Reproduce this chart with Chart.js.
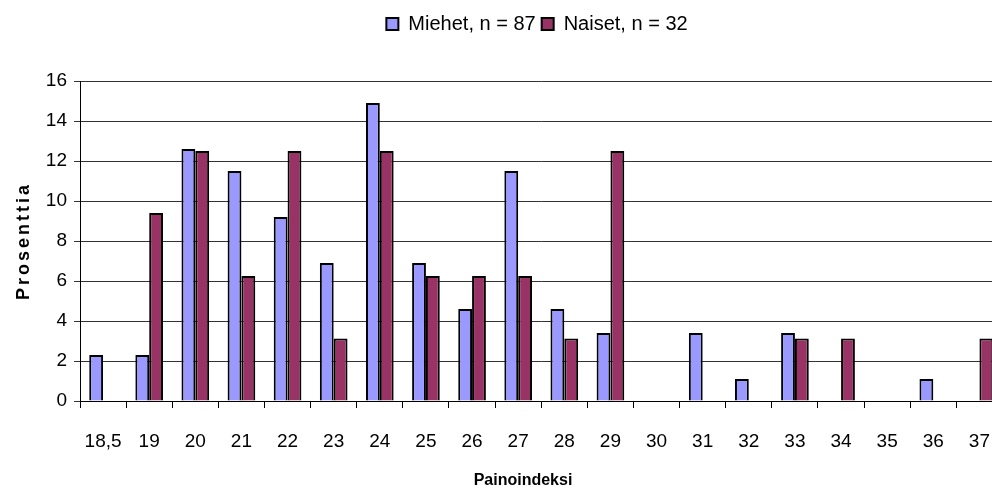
<!DOCTYPE html>
<html>
<head>
<meta charset="utf-8">
<script src="https://cdn.jsdelivr.net/npm/chart.js@4/dist/chart.umd.min.js"></script>
<style>
  html, body { margin: 0; padding: 0; background: #fff; overflow: hidden; }
  #wrap { width: 1012px; height: 492px; }
</style>
</head>
<body>
<div id="wrap"><canvas id="chart" width="1012" height="492"></canvas></div>
<script>
// categories (painoindeksi) and percentages per group
const categories = ['18,5', '19', '20', '21', '22', '23', '24', '25', '26', '27', '28', '29', '30', '31', '32', '33', '34', '35', '36', '37'];
const miehet = [2.3, 2.3, 12.6, 11.5, 9.2, 6.9, 14.9, 6.9, 4.6, 11.5, 4.6, 3.4, 0, 3.4, 1.1, 3.4, 0, 0, 1.1, 0];
const naiset = [0, 9.4, 12.5, 6.25, 12.5, 3.125, 12.5, 6.25, 6.25, 6.25, 3.125, 12.5, 0, 0, 0, 3.125, 3.125, 0, 0, 3.125];
const yTicks = [0, 2, 4, 6, 8, 10, 12, 14, 16];

const font = '"Liberation Sans", Arial, sans-serif';

// make room under the legend, and nudge it like the original
const legendSpace = {
    id: 'legendSpace',
    beforeInit(chart) {
        const fit = chart.legend.fit;
        chart.legend.fit = function () {
            fit.bind(chart.legend)();
            this.height += 40;
        };
    },
    afterLayout(chart) {
        chart.legend.left += 31;
        chart.legend.right += 31;
        chart.legend.top += 3;
    }
};

// axis titles, y one with letter spacing
const axisTitles = {
    id: 'axisTitles',
    afterDraw(chart) {
        const ctx = chart.ctx;
        const a = chart.chartArea;
        ctx.save();
        ctx.fillStyle = '#000';
        ctx.textAlign = 'center';
        ctx.textBaseline = 'middle';
        ctx.font = 'bold 16px ' + font;
        ctx.fillText('Painoindeksi', 523, 481);
        ctx.translate(24, (a.top + a.bottom) / 2);
        ctx.rotate(-Math.PI / 2);
        ctx.font = 'bold 18px ' + font;
        ctx.letterSpacing = '3px';
        ctx.fillText('Prosenttia', 0, 0);
        ctx.restore();
    }
};

new Chart(document.getElementById('chart'), {
    type: 'bar',
    data: {
        labels: categories,
        datasets: [
            {
                label: 'Miehet, n = 87',
                data: miehet,
                backgroundColor: '#9999ff',
                borderColor: '#000',
                borderWidth: 2
            },
            {
                label: 'Naiset, n = 32',
                data: naiset,
                backgroundColor: '#993366',
                borderColor: '#000',
                borderWidth: 2
            }
        ]
    },
    options: {
        responsive: false,
        animation: false,
        datasets: {
            bar: { categoryPercentage: 0.6, barPercentage: 1 }
        },
        layout: { padding: { left: 0, right: 0, top: 5, bottom: 0 } },
        plugins: {
            tooltip: { enabled: false },
            legend: {
                position: 'top',
                labels: {
                    color: '#000',
                    font: { family: font, size: 20 },
                    boxWidth: 12,
                    boxHeight: 12,
                    padding: 6,
                    useBorderRadius: false
                }
            }
        },
        scales: {
            x: {
                grid: {
                    offset: true,
                    drawOnChartArea: false,
                    drawTicks: true,
                    tickLength: 7,
                    color: '#000'
                },
                border: { color: '#000', width: 1 },
                ticks: {
                    color: '#000',
                    font: { family: font, size: 19 },
                    padding: 22,
                    maxRotation: 0,
                    autoSkip: false
                },
                afterFit(scale) { scale.height = 91; }
            },
            y: {
                min: 0,
                max: 16,
                afterBuildTicks(scale) { scale.ticks = yTicks.map(v => ({ value: v })); },
                grid: {
                    color: '#333',
                    lineWidth: 1,
                    tickLength: 6
                },
                border: { color: '#000', width: 1 },
                ticks: {
                    color: '#000',
                    font: { family: font, size: 19 },
                    padding: 7
                },
                afterFit(scale) { scale.width = 80; }
            }
        }
    },
    plugins: [legendSpace, axisTitles]
});
</script>
</body>
</html>
